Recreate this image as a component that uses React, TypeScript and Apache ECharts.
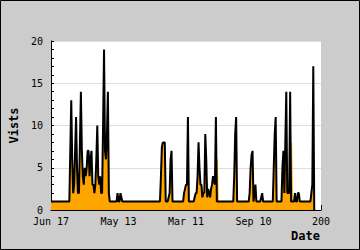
import React, { useEffect, useRef } from "react";
import * as echarts from "echarts";

const X_TICK_LABELS = ["Jun 17", "May 13", "Mar 11", "Sep 10", "200"];
const X_TICK_STEP = 70;
const X_MAX = 280;
const Y_MAX = 20;
const Y_STEP = 5;
const X_NAME = "Date";
const Y_NAME = "Vists";

// black line: visits per day (one entry per day slot)
const VISITS = [
  1, 1, 1, 1, 1, 1, 1, 1, 1, 1,
  1, 1, 1, 1, 1, 1, 1, 1, 1, 1,
  7, 13, 6, 2, 3, 7, 11, 5, 2, 2,
  8, 14, 7, 4, 3, 5, 4, 5, 7, 7,
  4, 6, 7, 3, 3, 2, 3, 6, 10, 4,
  3, 4, 2, 2, 10, 19, 7, 6, 9, 14,
  2, 1, 1, 1, 1, 1, 1, 1, 1, 2,
  1, 1, 2, 1.5, 1, 1, 1, 1, 1, 1,
  1, 1, 1, 1, 1, 1, 1, 1, 1, 1,
  1, 1, 1, 1, 1, 1, 1, 1, 1, 1,
  1, 1, 1, 1, 1, 1, 1, 1, 1, 1,
  1, 1, 1, 1, 4, 7.5, 8, 8, 8, 1,
  1, 1, 1.5, 2, 6, 7, 1, 1, 1, 1,
  1, 1, 1, 1, 1, 1, 1, 1, 2, 2.5,
  3, 3, 11, 1, 1, 1, 1, 1, 1, 1.5,
  2, 2, 4, 8, 5, 3, 3, 1.5, 2, 2,
  9, 6, 1.5, 2.5, 2, 1.5, 2.5, 3, 4, 3.5,
  3, 11, 1, 1, 1, 1, 1, 1, 1, 1,
  1, 1, 1, 1, 1, 1, 1, 1, 1, 1,
  4, 9, 11, 1, 1, 1, 1, 1, 1, 1,
  1, 1, 1, 1, 1, 1, 2, 5, 6.5, 7,
  1, 2, 3, 1, 1, 1, 1, 1, 1.5, 2,
  1, 1, 1, 1, 1, 1, 1, 1, 1, 1,
  1, 5, 9, 11, 1, 1, 1, 1, 1, 1,
  5, 7, 2, 8, 14, 2, 2, 2, 14, 1,
  1, 1, 1, 2, 1, 1, 2, 2, 1, 1,
  1, 1, 1, 1, 1, 1, 1, 1, 1, 1,
  2, 3, 17, 0,
];

// orange filled area
const VISITS_AREA = [
  1, 1, 1, 1, 1, 1, 1, 1, 1, 1,
  1, 1, 1, 1, 1, 1, 1, 1, 1, 1,
  7, 13, 6, 2, 3, 7, 11, 5, 2, 2,
  8, 14, 7, 4, 3, 5, 4, 5, 7, 7,
  4, 6, 7, 3, 3, 2, 3, 6, 10, 4,
  3, 4, 2, 2, 10, 19, 7, 6, 9, 14,
  10, 1, 1, 1, 1, 1, 1, 1, 1, 2,
  1, 1, 2, 1.5, 1, 1, 1, 1, 1, 1,
  1, 1, 1, 1, 1, 1, 1, 1, 1, 1,
  1, 1, 1, 1, 1, 1, 1, 1, 1, 1,
  1, 1, 1, 1, 1, 1, 1, 1, 1, 1,
  1, 1, 1, 1, 4, 7.5, 8, 8, 8, 1,
  1, 1, 1.5, 2, 6, 7, 1, 1, 1, 1,
  1, 1, 1, 1, 1, 1, 1, 1, 2, 2.5,
  3, 3, 11, 1, 1, 1, 1, 1, 1, 1.5,
  2, 2, 4, 8, 5, 3, 3, 1.5, 2, 2,
  9, 6, 1.5, 2.5, 2, 1.5, 2.5, 3, 4, 3.5,
  3, 11, 6, 6, 1, 1, 1, 1, 1, 1,
  1, 1, 1, 1, 1, 1, 1, 1, 1, 1,
  4, 9, 11, 1, 1, 1, 1, 1, 1, 1,
  1, 1, 1, 1, 1, 1, 2, 5, 6.5, 7,
  1, 2, 3, 1, 1, 1, 1, 1, 1.5, 2,
  1, 1, 1, 1, 1, 1, 1, 1, 1, 1,
  1, 5, 9, 11, 1, 1, 1, 1, 1, 1,
  5, 7, 2, 8, 14, 2, 2, 2, 14, 8,
  8, 1, 1, 2, 1, 1, 2, 2, 1, 1,
  1, 1, 1, 1, 1, 1, 1, 1, 1, 1,
  2, 3, 17, 0,
];

const FONT = "DejaVu Sans Mono";

export default function App() {
  const ref = useRef<HTMLDivElement>(null);
  useEffect(() => {
    if (!ref.current) return;
    const chart = echarts.init(ref.current, null, { renderer: "svg" });
    chart.setOption({
      animation: false,
      backgroundColor: "#cccccc",
      grid: {
        left: 41,
        top: 41,
        width: 280,
        height: 169,
        show: true,
        backgroundColor: "#ffffff",
        borderWidth: 0,
      },
      graphic: [
        {
          type: "rect",
          silent: true,
          z: 100,
          shape: { x: 0.5, y: 0.5, width: 359, height: 249 },
          style: { fill: "none", stroke: "#000000", lineWidth: 1 },
        },
      ],
      xAxis: {
        type: "value",
        min: 0,
        max: X_MAX,
        interval: X_TICK_STEP,
        name: X_NAME,
        nameLocation: "end",
        nameGap: 0,
        nameTextStyle: {
          fontFamily: FONT,
          fontSize: 12,
          fontWeight: "bold",
          color: "#000",
          align: "right",
          verticalAlign: "top",
          padding: [20, 1, 0, 0],
        },
        axisLine: { show: true, onZero: false, lineStyle: { color: "#000", width: 1 } },
        axisTick: { show: true, inside: true, length: 5, lineStyle: { color: "#000" } },
        splitLine: { show: false },
        axisLabel: {
          show: true,
          margin: 6,
          fontFamily: FONT,
          fontSize: 10,
          color: "#000",
          showMinLabel: true,
          showMaxLabel: true,
          formatter: (v: number) => X_TICK_LABELS[Math.round(v / X_TICK_STEP)] ?? "",
        },
      },
      yAxis: {
        type: "value",
        min: 0,
        max: Y_MAX,
        interval: Y_STEP,
        name: Y_NAME,
        nameLocation: "middle",
        nameRotate: 90,
        nameGap: 31,
        nameTextStyle: {
          fontFamily: FONT,
          fontSize: 12,
          fontWeight: "bold",
          color: "#000",
        },
        axisLine: { show: true, lineStyle: { color: "#000", width: 1 } },
        axisTick: { show: true, inside: true, length: 3, lineStyle: { color: "#000" } },
        minorTick: { show: true, splitNumber: 5, length: 3, lineStyle: { color: "#000" } },
        splitLine: { show: true, lineStyle: { color: "#dddddd", width: 1 } },
        axisLabel: {
          margin: 8,
          fontFamily: FONT,
          fontSize: 10,
          color: "#000",
        },
      },
      series: [
        {
          type: "line",
          data: VISITS_AREA.map((v, i) => [i, v]),
          symbol: "none",
          showSymbol: false,
          lineStyle: { width: 0 },
          areaStyle: { color: "#ffa500", opacity: 1 },
          z: 2,
          silent: true,
        },
        {
          type: "line",
          data: VISITS.map((v, i) => [i, v]),
          symbol: "none",
          showSymbol: false,
          lineStyle: { color: "#000000", width: 2 },
          z: 3,
          silent: true,
        },
      ],
    });
    return () => chart.dispose();
  }, []);
  return (
    <div
      ref={ref}
      style={{ position: "fixed", left: 0, top: 0, width: 360, height: 250 }}
    />
  );
}
